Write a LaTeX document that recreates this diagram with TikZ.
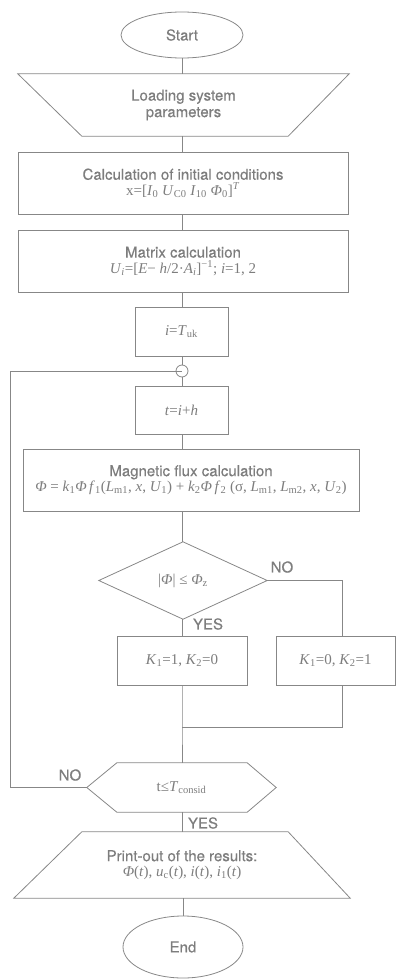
\documentclass[tikz,border=0pt]{standalone}
\usepackage{fontspec}
\setmainfont{TeX Gyre Heros}[FakeBold=0.35]
\newfontfamily\tms{Liberation Serif}
\usetikzlibrary{shapes.geometric}
\definecolor{ln}{RGB}{135,135,135}
\definecolor{tx}{RGB}{125,125,125}
\newcommand\fm[1]{{\tms #1}}
\newcommand\ii[1]{\textit{#1}}
\newcommand\sbs[1]{\textsubscript{#1}}
\begin{document}
\begin{tikzpicture}[x=1pt,y=-1pt,
  every node/.style={text=tx, font=\fontsize{15}{16.5}\selectfont},
  line/.style={draw=ln, line width=0.8pt},
  box/.style={draw=ln, line width=0.8pt, rectangle, inner sep=0pt, align=center},
  ghost/.style={rectangle, inner sep=0pt, align=center},
  term/.style={draw=ln, line width=0.8pt, ellipse, inner sep=0pt},
  lbl/.style={inner sep=0pt}]
\useasboundingbox (0,0) rectangle (396,979);

% terminals
\node[term, minimum width=122pt, minimum height=46pt] (start) at (182,35) {Start};
\node[term, minimum width=120pt, minimum height=62pt] (end) at (183,947) {End};

% loading trapezoid
\node[ghost, minimum width=331pt, minimum height=62pt] (load) at (183.5,105) {Loading system\\parameters};
\draw[line] (load.north west) -- (load.north east) -- ([xshift=-61pt]load.south east) -- ([xshift=64pt]load.south west) -- cycle;

% boxes
\node[box, minimum width=330pt, minimum height=62pt] (calc) at (183,183)
  {Calculation of initial conditions\\[-1pt] \fm{x=[\ii{I}\sbs{0} \ii{U}\sbs{C0} \ii{I}\sbs{10} \ii{Φ}\sbs{0}]\textsuperscript{\ii{T}}}};
\node[box, minimum width=330pt, minimum height=62pt] (mat) at (183,261)
  {Matrix calculation\\[-1pt] \fm{\ii{U}\sbs{\ii{i}}=[\ii{E}− \ii{h}/2·\ii{A}\sbs{\ii{i}}]\textsuperscript{−1}; \ii{i}=1, 2}};
\node[box, minimum width=93pt, minimum height=49pt] (iT) at (181.5,331.5) {\fm{\ii{i}=\ii{T}\sbs{uk}}};
\node[draw=ln, line width=0.8pt, circle, minimum size=12pt, inner sep=0pt] (con) at (182,371) {};
\node[box, minimum width=93pt, minimum height=48pt] (tih) at (181.5,410) {\fm{\ii{t}=\ii{i}+\ii{h}}};
\node[box, minimum width=336pt, minimum height=62pt] (mag) at (191,480)
  {Magnetic flux calculation\\[-1pt] \fm{\ii{Φ} = \ii{k}\sbs{1}\ii{Φ}\,\ii{f}\sbs{1}(\ii{L}\sbs{m1}, \ii{x}, \ii{U}\sbs{1}) + \ii{k}\sbs{2}\ii{Φ}\,\ii{f}\sbs{2} (σ, \ii{L}\sbs{m1}, \ii{L}\sbs{m2}, \ii{x}, \ii{U}\sbs{2})}};

% decision diamond
\node[ghost, minimum width=168pt, minimum height=77pt] (dec) at (183,580.5) {\fm{|\ii{Φ}| ≤ \ii{Φ}\sbs{z}}};
\draw[line] (dec.north) -- (dec.east) -- (dec.south) -- (dec.west) -- cycle;

\node[box, minimum width=130pt, minimum height=49pt] (k1) at (182,660.5) {\fm{\ii{K}\sbs{1}=1, \ii{K}\sbs{2}=0}};
\node[box, minimum width=119pt, minimum height=49pt] (k2) at (335.5,660.5) {\fm{\ii{K}\sbs{1}=0, \ii{K}\sbs{2}=1}};

% hexagon
\node[ghost, minimum width=189pt, minimum height=49pt] (cond) at (181.5,787.5) {\fm{t≤\ii{T}\sbs{consid}}};
\draw[line] (cond.west) -- ([xshift=30pt]cond.north west) -- ([xshift=-29pt]cond.north east) -- (cond.east)
  -- ([xshift=-29pt]cond.south east) -- ([xshift=30pt]cond.south west) -- cycle;

% print trapezoid
\node[ghost, minimum width=336pt, minimum height=66pt] (prn) at (182,865)
  {Print-out of the results:\\[-1pt] \fm{\ii{Φ}(\ii{t}), \ii{u}\sbs{c}(\ii{t}), \ii{i}(\ii{t}), \ii{i}\sbs{1}(\ii{t})}};
\draw[line] ([xshift=68pt]prn.north west) -- ([xshift=-62pt]prn.north east) -- (prn.south east) -- (prn.south west) -- cycle;

% coordinates
\coordinate (noc) at (342,580.5);
\coordinate (mrgL) at (182,727);
\coordinate (mrgR) at (342,727);
\coordinate (lpB) at (10,787.5);
\coordinate (lpT) at (10,371);

% connectors
\draw[line] (start.south) -- (start.south |- load.north);
\draw[line] (182,136) -- (182,152);
\draw[line] (calc.south -| start.south) -- (mat.north -| start.south);
\draw[line] (mat.south -| start.south) -- (iT.north -| start.south);
\draw[line] (iT.south -| con.north) -- (con.north);
\draw[line] (con.south) -- (tih.north -| con.south);
\draw[line] (tih.south -| con.south) -- (mag.north -| con.south);
\draw[line] (mag.south -| con.south) -- (dec.north -| con.south);
\draw[line] (dec.south -| con.south) -- (k1.north -| con.south);
\draw[line] (dec.east) -- (noc) -- (noc |- k2.north);
\draw[line] (k1.south -| mrgL) -- (mrgL) -- (cond.north -| mrgL);
\draw[line] (k2.south -| mrgR) -- (mrgR) -- (mrgL);
\draw[line] (cond.west) -- (lpB) -- (lpT) -- (con.center);
\draw[line] (cond.south -| con.south) -- (prn.north -| con.south);
\draw[line] (prn.south -| end.north) -- (end.north);

% labels
\node[lbl] (no1) at (282,567) {NO};
\node[lbl] (yes1) at (208,624) {YES};
\node[lbl] (no2) at (70,775) {NO};
\node[lbl] (yes2) at (203,823) {YES};
\end{tikzpicture}
\end{document}
